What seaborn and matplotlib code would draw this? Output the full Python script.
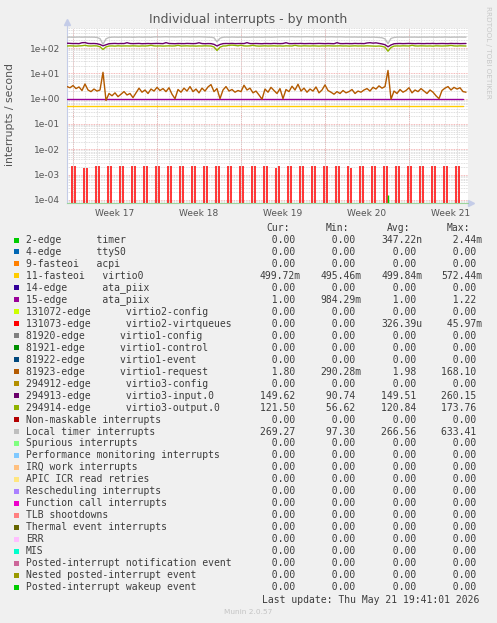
import numpy as np
import pandas as pd
import seaborn as sns
import matplotlib.pyplot as plt
from matplotlib.patches import Rectangle
from matplotlib.ticker import LogLocator, FixedLocator, FuncFormatter, NullFormatter

W, H = 497, 623

# ---- data --------------------------------------------------------------
# samples every 6 hours (0.25 day) from the left edge of the graph
step_days = 0.25

virtio1_request = [  # 81923-edge
    3.0, 2.7, 3.3, 2.5, 2.9, 2.1, 3.8, 2.2, 1.9, 2.4,
    2.0, 2.2, 11.0, 0.85, 1.6, 1.3, 1.7, 1.2, 1.5, 1.9,
    1.4, 1.6, 1.1, 1.7, 2.6, 1.8, 2.2, 1.6, 2.4, 2.0,
    2.8, 2.1, 2.5, 1.9, 2.7, 1.5, 1.0, 2.3, 1.8, 2.6,
    2.0, 3.0, 1.9, 2.4, 1.7, 2.6, 2.0, 2.9, 3.6, 1.9,
    2.5, 1.0, 2.2, 3.0, 2.0, 2.3, 1.8, 2.1, 1.9, 3.4,
    2.2, 2.6, 1.7, 2.0, 1.4, 0.95, 2.4, 1.8, 2.8, 2.1,
    1.6, 2.5, 1.0, 2.3, 1.9, 3.1, 2.2, 3.7, 2.0, 2.6,
    1.8, 2.4, 2.0, 2.9, 1.7, 2.2, 3.5, 2.1, 1.8, 1.5,
    1.9, 1.6, 2.1, 1.7, 1.9, 2.3, 1.6, 2.0, 1.8, 2.2,
    2.5, 2.0, 2.8, 2.4, 3.2, 2.6, 3.0, 13.0, 0.95, 2.0,
    1.6, 2.3, 1.8, 2.1, 2.7, 1.7, 2.2, 1.9, 2.5, 2.0,
    1.6, 2.2, 1.8, 1.3, 1.0, 2.1, 2.6, 3.0, 2.2, 2.8,
    2.4, 2.7, 1.9, 1.8,
]

local_timer = [
    268, 270, 267, 269, 271, 268, 270, 269, 266, 268,
    262, 235, 140, 230, 262, 268, 270, 267, 269, 271,
    268, 270, 266, 269, 272, 268, 270, 271, 267, 274,
    276, 273, 275, 278, 274, 276, 273, 275, 277, 274,
    276, 272, 275, 273, 276, 274, 272, 270, 266, 255,
    175, 245, 266, 270, 268, 271, 269, 267, 270, 268,
    266, 269, 271, 268, 270, 267, 269, 272, 268, 270,
    273, 276, 278, 275, 277, 280, 276, 278, 275, 277,
    279, 276, 274, 277, 275, 278, 276, 274, 277, 275,
    273, 276, 274, 271, 273, 270, 272, 269, 271, 268,
    270, 267, 269, 266, 262, 255, 230, 150, 240, 262,
    268, 270, 267, 269, 271, 268, 270, 267, 269, 270,
    268, 271, 269, 267, 270, 268, 271, 269, 267, 270,
    268, 271, 269, 270,
]

virtio3_input = [  # 294913-edge
    155, 152, 150, 151, 149, 162, 164, 152, 150, 151,
    148, 138, 122, 135, 148, 150, 152, 149, 151, 150,
    162, 151, 149, 150, 152, 148, 150, 151, 149, 150,
    152, 150, 149, 163, 151, 150, 148, 151, 150, 149,
    152, 150, 149, 151, 161, 150, 148, 150, 149, 140,
    120, 138, 149, 151, 150, 152, 149, 150, 151, 150,
    163, 150, 149, 151, 150, 148, 151, 150, 149, 152,
    150, 149, 151, 162, 150, 149, 151, 150, 152, 149,
    150, 151, 149, 150, 152, 150, 149, 151, 150, 148,
    162, 150, 149, 151, 150, 149, 152, 150, 151, 149,
    158, 162, 156, 160, 152, 145, 135, 112, 132, 147,
    150, 151, 149, 150, 152, 150, 149, 151, 150, 149,
    151, 150, 152, 149, 150, 151, 150, 149, 152, 150,
    151, 149, 150, 151,
]

virtio3_output = [  # 294914-edge
    120, 122, 121, 119, 121, 123, 128, 121, 120, 122,
    121, 112, 88, 110, 120, 121, 119, 122, 120, 121,
    121, 120, 122, 121, 119, 121, 120, 122, 128, 121,
    120, 121, 119, 121, 122, 120, 121, 128, 120, 121,
    122, 120, 121, 119, 121, 120, 122, 121, 120, 110,
    80, 108, 120, 121, 128, 130, 127, 122, 129, 121,
    120, 122, 128, 121, 119, 121, 122, 120, 121, 122,
    120, 121, 119, 122, 121, 120, 128, 121, 120, 122,
    121, 120, 122, 121, 119, 121, 120, 122, 121, 120,
    121, 122, 120, 121, 119, 121, 122, 120, 121, 120,
    122, 121, 119, 118, 120, 116, 108, 75, 105, 119,
    121, 120, 122, 121, 120, 128, 121, 120, 122, 121,
    120, 121, 119, 122, 121, 120, 121, 122, 127, 121,
    120, 122, 121, 120,
]

# flat series, one sample per day
ata_piix_15 = [1.00, 1.00, 1.00, 1.00, 1.00, 1.00, 1.00, 1.00, 1.00, 1.00,
               1.00, 1.00, 1.00, 1.00, 1.00, 1.00, 1.00, 1.00, 1.00, 1.00,
               1.00, 1.00, 1.00, 1.00, 1.00, 1.00, 1.00, 1.00, 1.00, 1.00,
               1.00, 1.00, 1.00, 1.00]
virtio0_11 = [0.50, 0.50, 0.50, 0.50, 0.50, 0.50, 0.50, 0.50, 0.50, 0.50,
              0.50, 0.50, 0.50, 0.50, 0.50, 0.50, 0.50, 0.50, 0.50, 0.50,
              0.50, 0.50, 0.50, 0.50, 0.50, 0.50, 0.50, 0.50, 0.50, 0.50,
              0.50, 0.50, 0.50, 0.50]

# virtio2-virtqueues: two short bursts every day (hour of day, peak per day)
virtq_hours = [10.0, 15.4]
virtq_peaks = [
    (2.1e-3, 2.1e-3), (1.9e-3, 1.8e-3), (2.1e-3, 2.1e-3), (2.1e-3, 2.1e-3),
    (2.1e-3, 2.1e-3), (2.1e-3, 2.1e-3), (2.1e-3, 2.1e-3), (2.1e-3, 2.1e-3),
    (2.1e-3, 2.1e-3), (2.1e-3, 2.1e-3), (2.1e-3, 2.1e-3), (2.1e-3, 2.1e-3),
    (2.1e-3, 2.1e-3), (2.1e-3, 2.1e-3), (2.1e-3, 2.1e-3), (2.1e-3, 2.1e-3),
    (2.1e-3, 2.1e-3), (1.8e-3, 2.1e-3), (2.1e-3, 2.1e-3), (2.1e-3, 2.1e-3),
    (2.1e-3, 2.1e-3), (2.1e-3, 2.1e-3), (2.1e-3, 2.1e-3), (2.1e-3, 1.8e-3),
    (2.1e-3, 2.1e-3), (2.1e-3, 2.1e-3), (2.1e-3, 2.1e-3), (2.1e-3, 2.1e-3),
    (2.1e-3, 2.1e-3), (2.1e-3, 2.1e-3), (2.1e-3, 2.1e-3), (2.1e-3, 2.1e-3),
    (2.1e-3, 2.1e-3),
]
timer_spike_day = [26.75]
timer_spike_val = [1.55e-4]

week_start_days = [0.475, 7.475, 14.475, 21.475, 28.475]
week_labels = ["Week 17", "Week 18", "Week 19", "Week 20", "Week 21"]

# legend table
leg_names = [
    "2-edge      timer", "4-edge      ttyS0", "9-fasteoi   acpi",
    "11-fasteoi   virtio0", "14-edge      ata_piix", "15-edge      ata_piix",
    "131072-edge      virtio2-config", "131073-edge      virtio2-virtqueues",
    "81920-edge      virtio1-config", "81921-edge      virtio1-control",
    "81922-edge      virtio1-event", "81923-edge      virtio1-request",
    "294912-edge      virtio3-config", "294913-edge      virtio3-input.0",
    "294914-edge      virtio3-output.0", "Non-maskable interrupts",
    "Local timer interrupts", "Spurious interrupts",
    "Performance monitoring interrupts", "IRQ work interrupts",
    "APIC ICR read retries", "Rescheduling interrupts",
    "Function call interrupts", "TLB shootdowns", "Thermal event interrupts",
    "ERR", "MIS", "Posted-interrupt notification event",
    "Nested posted-interrupt event", "Posted-interrupt wakeup event",
]
leg_colors = [
    "#00CC00", "#0066B3", "#FF8000", "#FFCC00", "#330099", "#990099",
    "#CCFF00", "#FF0000", "#808080", "#008F00", "#00487D", "#B35A00",
    "#B38F00", "#6B006B", "#8FB300", "#B30000", "#BEBEBE", "#80FF80",
    "#80C9FF", "#FFC080", "#FFE680", "#AA80FF", "#EE00CC", "#FF8080",
    "#666600", "#FFBFFF", "#00FFCC", "#CC6699", "#999900", "#00CC00",
]
cur_vals = [0, 0, 0, 499.72e-3, 0, 1.00, 0, 0, 0, 0, 0, 1.80, 0, 149.62, 121.50,
            0, 269.27, 0, 0, 0, 0, 0, 0, 0, 0, 0, 0, 0, 0, 0]
min_vals = [0, 0, 0, 495.46e-3, 0, 984.29e-3, 0, 0, 0, 0, 0, 290.28e-3, 0, 90.74,
            56.62, 0, 97.30, 0, 0, 0, 0, 0, 0, 0, 0, 0, 0, 0, 0, 0]
avg_vals = [347.22e-9, 0, 0, 499.84e-3, 0, 1.00, 0, 326.39e-6, 0, 0, 0, 1.98, 0,
            149.51, 120.84, 0, 266.56, 0, 0, 0, 0, 0, 0, 0, 0, 0, 0, 0, 0, 0]
max_vals = [2.44e-3, 0, 0, 572.44e-3, 0, 1.22, 0, 45.97e-3, 0, 0, 0, 168.10, 0,
            260.15, 173.76, 0, 633.41, 0, 0, 0, 0, 0, 0, 0, 0, 0, 0, 0, 0, 0]


def si(v):
    # rrdtool style "%6.2lf%s"
    if v == 0:
        return "%6.2f " % 0
    k = int(np.floor(np.log10(abs(v)) / 3))
    k = max(min(k, 0), -3)
    suffix = {-3: "n", -2: "u", -1: "m", 0: " "}[k]
    return "%6.2f%s" % (v / 10 ** (3 * k), suffix)


# ---- build long-form frame for seaborn ----------------------------------
frames = []
for name, vals, step in [
    ("11-fasteoi", virtio0_11, 1.0),
    ("15-edge", ata_piix_15, 1.0),
    ("81923-edge", virtio1_request, step_days),
    ("294913-edge", virtio3_input, step_days),
    ("294914-edge", virtio3_output, step_days),
    ("Local timer", local_timer, step_days),
]:
    frames.append(pd.DataFrame({"day": np.arange(len(vals)) * step,
                                "rate": vals, "series": name}))
df = pd.concat(frames, ignore_index=True)
palette = {"11-fasteoi": "#FFCC00", "15-edge": "#990099", "81923-edge": "#B35A00",
           "294913-edge": "#6B006B", "294914-edge": "#8FB300", "Local timer": "#BEBEBE"}

sns.set_style("white")
plt.rcParams["font.family"] = ["DejaVu Sans"]

fig = plt.figure(figsize=(W / 100, H / 100), dpi=100, facecolor="#F0F0F0")
ax_l, ax_r, ax_t, ax_b = 67, 468, 28, 203
ax = fig.add_axes([ax_l / W, 1 - ax_b / H, (ax_r - ax_l) / W, (ax_b - ax_t) / H])
ax.set_facecolor("white")

ax.set_yscale("log")
ax.set_xlim(0, (ax_r - ax_l) / 12)
ax.set_ylim(7.6e-5, 617)

# grid
ax.yaxis.set_major_locator(LogLocator(base=10, numticks=20))
ax.yaxis.set_minor_locator(LogLocator(base=10, subs=np.arange(2, 10), numticks=20))
ax.yaxis.set_minor_formatter(NullFormatter())
ax.yaxis.set_major_formatter(FuncFormatter(lambda v, p: "%.0e" % v))
ax.grid(which="major", axis="y", color="#F2A0A0", lw=0.6, ls=(0, (1, 1)))
ax.grid(which="minor", axis="y", color="#D4D4D4", lw=0.6, ls=(0, (1, 1)))

day_lines = [week_start_days[0] + d for d in range(33)]
ax.xaxis.set_minor_locator(FixedLocator(day_lines))
ax.grid(which="minor", axis="x", color="#D4D4D4", lw=0.6, ls=(0, (1, 1)))
for d in week_start_days:
    ax.axvline(d, color="#F2A0A0", lw=0.7, ls=(0, (1, 1)), zorder=0.5)
ax.set_xticks([d + 3.5 for d in week_start_days], labels=week_labels)
ax.grid(which="major", axis="x", visible=False)

# series
ax.vlines([d + h / 24 for d in range(len(virtq_peaks)) for h in virtq_hours], 1e-9,
          [p for pair in virtq_peaks for p in pair], colors="#FF0000", lw=1.1, zorder=2)
ax.vlines(timer_spike_day, 1e-9, timer_spike_val, colors="#00CC00", lw=1.0, zorder=2)
sns.lineplot(data=df, x="day", y="rate", hue="series", palette=palette,
             hue_order=list(palette), legend=False, errorbar=None, lw=1.0, ax=ax,
             zorder=3)
ax.set_xlabel("")
ax.set_ylabel("")

ax.tick_params(axis="both", which="both", length=0, labelsize=6.5, labelcolor="#555555")
ax.tick_params(axis="y", pad=5)
ax.tick_params(axis="x", pad=4)
for s in ["top", "right"]:
    ax.spines[s].set_visible(False)
ax.spines["left"].set_color("#C4CCE8")
ax.spines["bottom"].set_color("#9CD49C")
ax.spines["left"].set_linewidth(0.8)
ax.spines["bottom"].set_linewidth(0.8)
ax.plot([0, 0], [1, 1.03], transform=ax.transAxes, clip_on=False, color="#C4CCE8", lw=0.8)
ax.plot([0], [1.035], marker="^", ms=4, color="#C4CCE8", transform=ax.transAxes, clip_on=False)
ax.plot([1.008], [0], marker=">", ms=4, color="#C4CCE8", transform=ax.transAxes, clip_on=False)

# ---- texts -------------------------------------------------------------
def fx(x):
    return x / W


def fy(y):
    return 1 - y / H


fig.text(fx(248.5), fy(19), "Individual interrupts - by month", ha="center", va="center",
         fontsize=9, color="#555555")
fig.text(fx(10), fy(115), "interrupts / second", rotation=90, ha="center", va="center",
         fontsize=7.8, color="#555555")
fig.text(fx(488), fy(52), "RRDTOOL / TOBI OETIKER", rotation=270, ha="center", va="center",
         fontsize=5.2, color="#C8C8C8")

mono = "DejaVu Sans Mono"
fs = 7.0
tc = "#3C3C3C"
for x, h in zip([266, 326, 387, 447], ["Cur:", "Min:", "Avg:", "Max:"]):
    fig.text(fx(x), fy(228), h, family=mono, fontsize=fs, color=tc, va="center")

cols = [260, 320.5, 381, 441]
for i, name in enumerate(leg_names):
    yc = 240 + 11.97 * i
    fig.add_artist(Rectangle((fx(13.5), fy(yc + 2.5)), 5 / W, 5 / H,
                             transform=fig.transFigure, color=leg_colors[i], lw=0))
    fig.text(fx(26), fy(yc), name, family=mono, fontsize=fs, color=tc, va="center")
    for x, vals in zip(cols, [cur_vals, min_vals, avg_vals, max_vals]):
        fig.text(fx(x), fy(yc), si(vals[i]), family=mono, fontsize=fs, color=tc, va="center")

fig.text(fx(261.5), fy(600), "Last update: Thu May 21 19:41:01 2026", family=mono,
         fontsize=fs, color=tc, va="center")
fig.text(fx(248), fy(612), "Munin 2.0.57", ha="center", va="center", fontsize=5.3,
         color="#C4C4C4")

fig.savefig("out.png", dpi=100, facecolor=fig.get_facecolor())
